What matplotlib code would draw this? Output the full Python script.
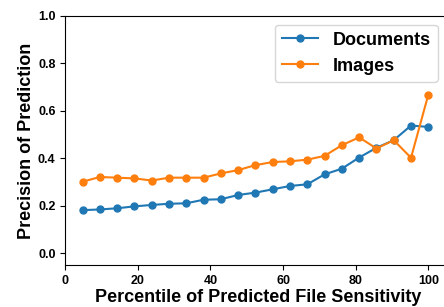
import matplotlib
matplotlib.use("Agg")
from matplotlib import pyplot as plt

plt.rcParams['font.family'] = ['Liberation Sans', 'DejaVu Sans']
plt.rcParams['font.weight'] = 'bold'

# percentile buckets (21 of them)
percentiles = [100 * k / 21 for k in range(1, 22)]

documents = [0.181, 0.184, 0.189, 0.197, 0.203, 0.208, 0.210, 0.225, 0.227, 0.245, 0.255,
             0.269, 0.283, 0.290, 0.332, 0.356, 0.403, 0.444, 0.476, 0.538, 0.532]
images = [0.301, 0.321, 0.318, 0.315, 0.306, 0.318, 0.318, 0.318, 0.336, 0.350, 0.371,
          0.384, 0.387, 0.394, 0.410, 0.455, 0.488, 0.441, 0.476, 0.402, 0.668]

yticks = [0.0, 0.2, 0.4, 0.6, 0.8, 1.0]
xticks = [0, 20, 40, 60, 80, 100]

fig = plt.figure(figsize=(4.44, 3.07), dpi=100)
# axes run slightly past the right edge of the figure (cropped in the original)
ax = fig.add_axes([0.147, 0.137, 0.87, 0.811])

ax.plot(percentiles, documents, marker="o", markersize=5, linewidth=1.5, color="#1f77b4", label="Documents")
ax.plot(percentiles, images, marker="o", markersize=5, linewidth=1.5, color="#ff7f0e", label="Images")

ax.set_xlim(0, 106.4)
ax.set_ylim(-0.05, 1.0)
ax.set_xticks(xticks)
ax.set_yticks(yticks)
ax.tick_params(labelsize=9)
for lbl in ax.get_xticklabels() + ax.get_yticklabels():
    lbl.set_fontweight('bold')

ax.set_xlabel("Percentile of Predicted File Sensitivity", fontsize=13, fontweight='bold', labelpad=2)
ax.set_ylabel("Precision of Prediction", fontsize=13, fontweight='bold', labelpad=2)

ax.legend(loc="upper right", prop={'size': 13, 'weight': 'bold'},
          bbox_to_anchor=(438 / 444, 0.948 - 0.028), bbox_transform=fig.transFigure, borderaxespad=0)

fig.savefig("out.png", dpi=100)
